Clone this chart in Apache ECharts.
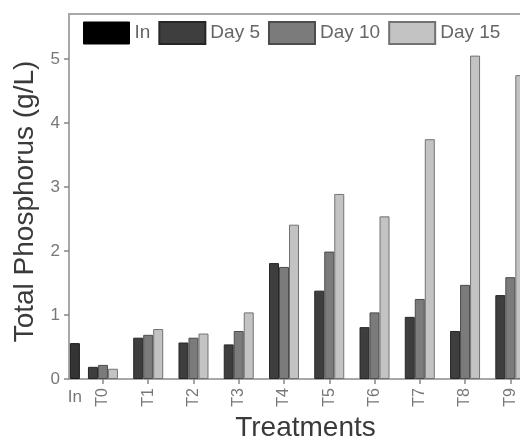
<!DOCTYPE html>
<html>
<head>
<meta charset="utf-8">
<script src="https://cdn.jsdelivr.net/npm/echarts@6/dist/echarts.min.js"></script>
<style>
html,body{margin:0;padding:0;background:#fff;}
#chart{width:520px;height:441px;}
</style>
</head>
<body>
<div id="chart"></div>
<script>
const treatments = ['T0','T1','T2','T3','T4','T5','T6','T7','T8','T9'];
const inLabel = 'In';
const inValues = [0.56];
const day5 = [0.19, 0.645, 0.57, 0.54, 1.81, 1.38, 0.81, 0.97, 0.75, 1.31];
const day10 = [0.22, 0.69, 0.645, 0.75, 1.75, 1.99, 1.04, 1.25, 1.47, 1.59];
const day15 = [0.16, 0.78, 0.71, 1.04, 2.41, 2.89, 2.54, 3.745, 5.05, 4.745];
const yTicks = [0, 1, 2, 3, 4, 5];

const IN_POS = -0.62;
const X_MIN = -0.75, X_MAX = 9.7;
const tIdx = treatments.map((t, i) => i);
const pairs = arr => arr.map((v, i) => [i, v]);

const font = 'Liberation Sans, Arial, sans-serif';
const axisGray = '#a8a8a8';
const labelGray = '#777';

const chart = echarts.init(document.getElementById('chart'));
chart.setOption({
  animation: false,
  backgroundColor: '#fff',
  textStyle: { fontFamily: font },
  grid: {
    left: 69, top: 14, bottom: 62, width: 473,
    outerBoundsMode: 'none', containLabel: false,
    show: true, borderColor: axisGray, borderWidth: 2
  },
  legend: {
    left: 83, top: 21,
    itemWidth: 46, itemHeight: 22, itemGap: 8,
    icon: 'rect',
    padding: 0,
    textStyle: { fontSize: 19, color: '#666', fontFamily: font },
    data: [
      { name: 'In', itemStyle: { color: '#000', borderColor: '#000', borderWidth: 1 } },
      { name: 'Day 5' }, { name: 'Day 10' }, { name: 'Day 15' }
    ]
  },
  xAxis: [
    {
      type: 'value', min: X_MIN, max: X_MAX, position: 'bottom',
      splitLine: { show: false },
      axisLine: { show: true, onZero: false, lineStyle: { color: axisGray, width: 2 } },
      axisTick: { show: true, customValues: tIdx, length: 5, lineStyle: { color: '#888', width: 1.5 } },
      axisLabel: {
        customValues: tIdx, rotate: 90, margin: 9, fontSize: 16, color: labelGray,
        formatter: v => treatments[Math.round(v)]
      },
      name: 'Treatments', nameLocation: 'middle', nameGap: 32,
      nameTextStyle: { fontSize: 28, color: '#3a3a3a', fontFamily: font }
    },
    {
      type: 'value', min: X_MIN, max: X_MAX, position: 'bottom',
      splitLine: { show: false },
      axisLine: { show: false, onZero: false },
      axisTick: { show: false, customValues: [IN_POS] },
      axisLabel: {
        customValues: [IN_POS], margin: 10, fontSize: 17, color: labelGray,
        formatter: () => inLabel
      }
    }
  ],
  yAxis: {
    type: 'value', min: 0, max: 5.7, interval: 1,
    splitLine: { show: false },
    axisLine: { show: true, onZero: false, lineStyle: { color: axisGray, width: 2 } },
    axisTick: { show: true, customValues: yTicks, length: 5, lineStyle: { color: '#888', width: 1.5 } },
    axisLabel: { customValues: yTicks, margin: 9, fontSize: 17, color: labelGray },
    name: 'Total Phosphorus (g/L)', nameLocation: 'middle', nameGap: 30, nameRotate: 90,
    nameTextStyle: { fontSize: 28, color: '#3a3a3a', fontFamily: font, padding: [0, 10, 0, 0] }
  },
  series: [
    {
      name: 'In', type: 'bar', xAxisIndex: 1, barWidth: 10,
      itemStyle: { color: '#343434', borderColor: '#1a1a1a', borderWidth: 1 },
      data: inValues.map(v => [IN_POS, v])
    },
    {
      name: 'Day 5', type: 'bar', xAxisIndex: 0, barWidth: 10, barGap: '0%',
      itemStyle: { color: '#3e3e3e', borderColor: '#262626', borderWidth: 1 },
      data: pairs(day5)
    },
    {
      name: 'Day 10', type: 'bar', xAxisIndex: 0, barWidth: 10, barGap: '0%',
      itemStyle: { color: '#7b7b7b', borderColor: '#4c4c4c', borderWidth: 1 },
      data: pairs(day10)
    },
    {
      name: 'Day 15', type: 'bar', xAxisIndex: 0, barWidth: 10, barGap: '0%',
      itemStyle: { color: '#c3c3c3', borderColor: '#727272', borderWidth: 1 },
      data: pairs(day15)
    }
  ]
});
</script>
</body>
</html>
